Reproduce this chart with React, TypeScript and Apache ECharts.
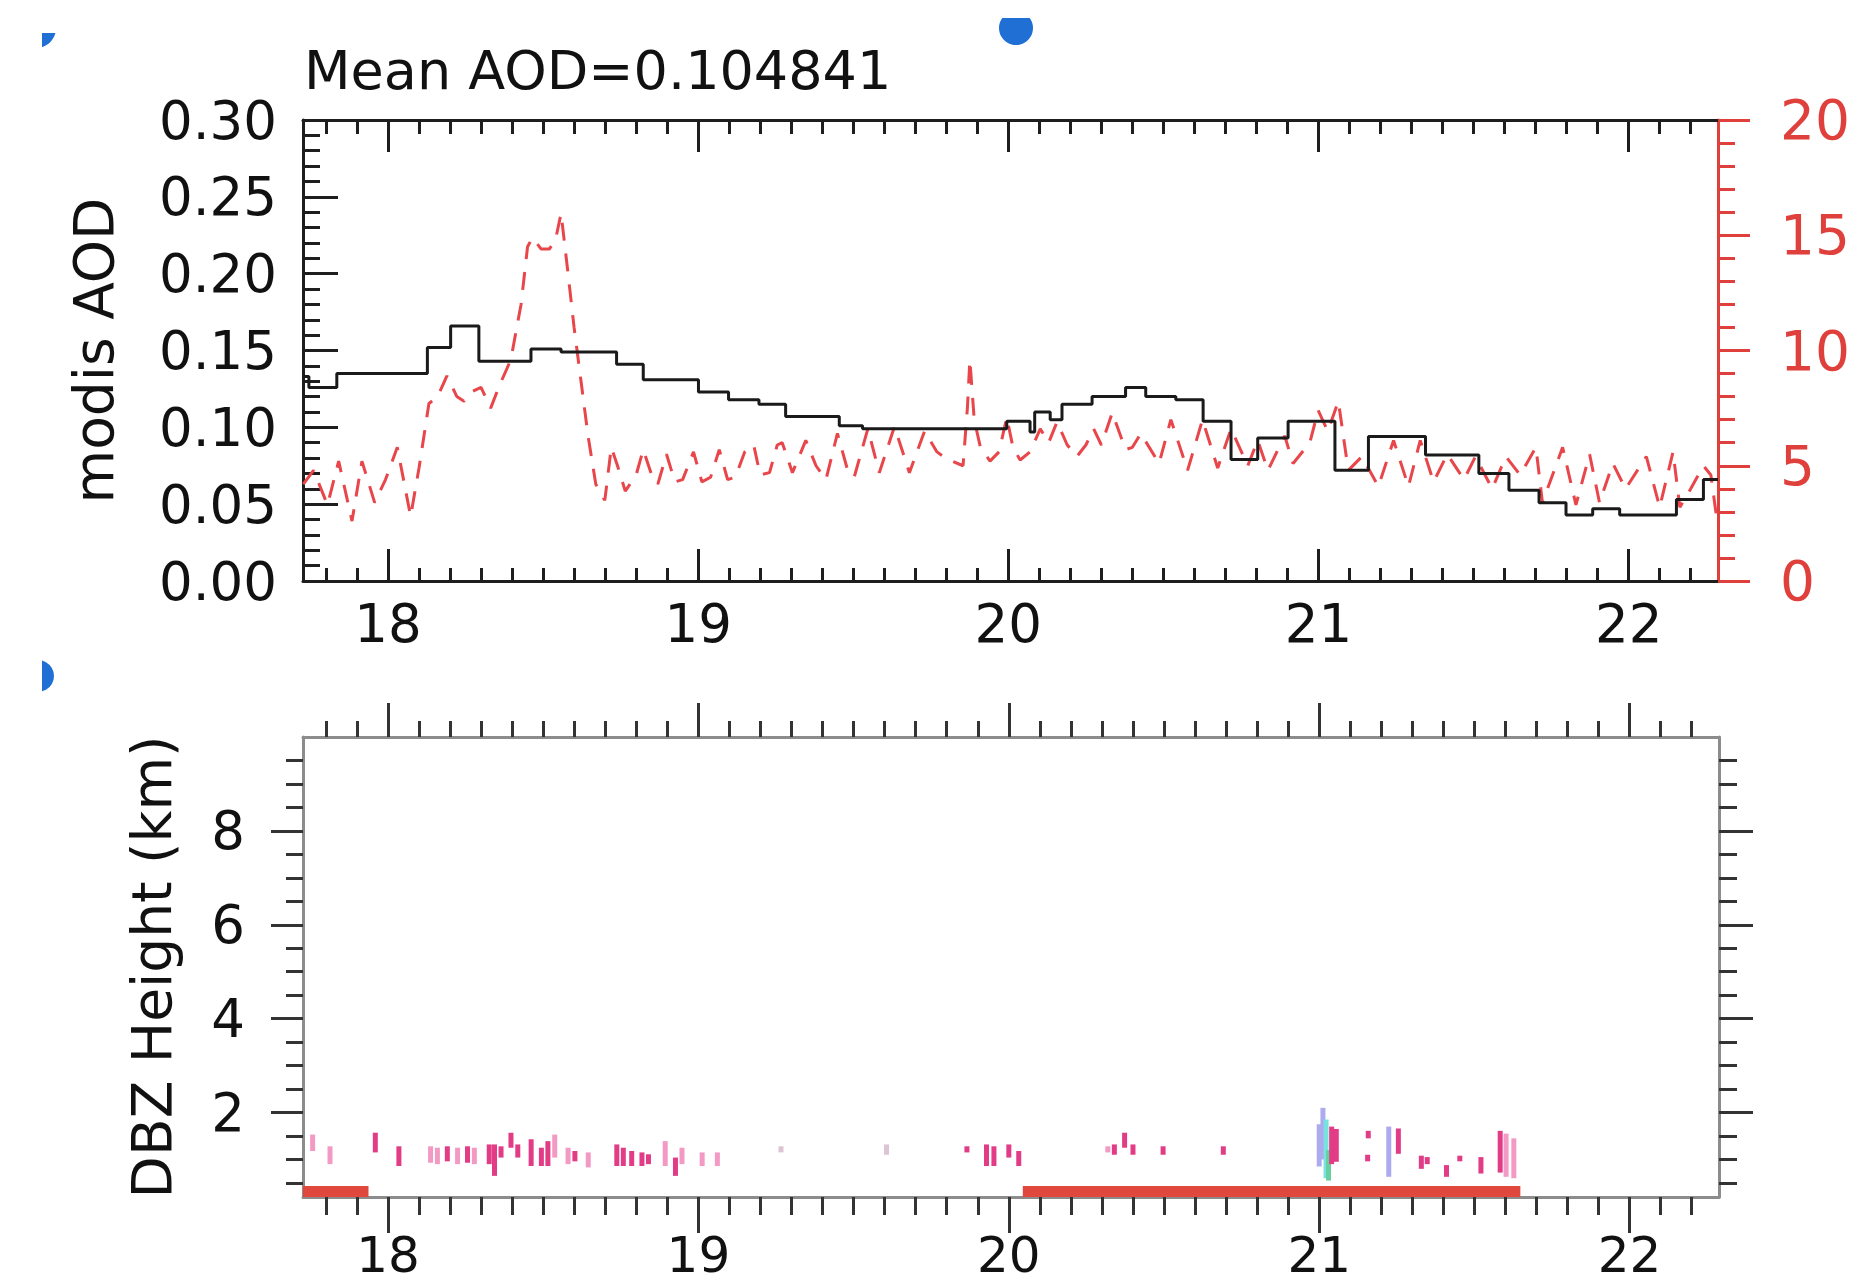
import React, { useEffect, useRef } from "react";
import * as echarts from "echarts";

// ---------- axes ----------
const X_MIN = 17.726;
const X_MAX = 22.288;
const dayLabels = [18, 19, 20, 21, 22];
const aodTicks = [0, 0.05, 0.1, 0.15, 0.2, 0.25, 0.3];
const rightTicks = [0, 5, 10, 15, 20];
const heightTicks = [2, 4, 6, 8];
const H_MIN = 0.2;
const H_MAX = 10;

// ---------- top panel: modis AOD (black step) ----------
const aodTime = [
  17.726, 17.745, 17.835, 18.127, 18.202, 18.293, 18.461, 18.558, 18.737, 18.823,
  19.001, 19.098, 19.196, 19.282, 19.455, 19.53, 19.995, 20.07, 20.085, 20.135,
  20.173, 20.27, 20.378, 20.443, 20.54, 20.628, 20.718, 20.804, 20.902, 21.053,
  21.161, 21.345, 21.517, 21.614, 21.711, 21.798, 21.884, 21.971, 22.154, 22.241, 22.288,
];
const aodValue = [
  0.133, 0.126, 0.135, 0.152, 0.166, 0.143, 0.151, 0.149, 0.141, 0.131,
  0.123, 0.118, 0.115, 0.107, 0.101, 0.099, 0.104, 0.097, 0.11, 0.105,
  0.115, 0.12, 0.126, 0.12, 0.118, 0.104, 0.079, 0.093, 0.104, 0.072,
  0.094, 0.082, 0.07, 0.059, 0.051, 0.043, 0.047, 0.043, 0.053, 0.066, 0.066,
];

// ---------- top panel: red dashed (right axis) ----------
const redTime = [
  17.727, 17.76, 17.805, 17.841, 17.884, 17.916, 17.957, 17.992, 18.03, 18.073,
  18.1, 18.132, 18.16, 18.19, 18.222, 18.245, 18.268, 18.3, 18.331, 18.36,
  18.396, 18.429, 18.45, 18.466, 18.494, 18.52, 18.54, 18.558, 18.58, 18.6,
  18.623, 18.645, 18.67, 18.699, 18.72, 18.74, 18.765, 18.8, 18.823, 18.85,
  18.87, 18.898, 18.925, 18.95, 18.985, 19.012, 19.04, 19.068, 19.095, 19.12,
  19.15, 19.179, 19.2, 19.23, 19.255, 19.271, 19.304, 19.347, 19.38, 19.412,
  19.449, 19.48, 19.503, 19.547, 19.584, 19.633, 19.681, 19.73, 19.77, 19.8,
  19.854, 19.868, 19.876, 19.89, 19.91, 19.941, 19.97, 19.995, 20.015, 20.038,
  20.07, 20.103, 20.13, 20.157, 20.19, 20.221, 20.25, 20.275, 20.3, 20.335,
  20.378, 20.4, 20.427, 20.486, 20.524, 20.578, 20.626, 20.675, 20.718, 20.772,
  20.804, 20.837, 20.891, 20.918, 20.972, 20.999, 21.03, 21.064, 21.096, 21.14,
  21.193, 21.242, 21.29, 21.328, 21.371, 21.415, 21.469, 21.506, 21.56, 21.604,
  21.65, 21.701, 21.722, 21.787, 21.83, 21.874, 21.906, 21.949, 21.99, 22.057,
  22.1, 22.143, 22.165, 22.2, 22.241, 22.265, 22.284,
];
const redValue = [
  4.2, 4.8, 3.3, 5.2, 2.6, 5.2, 3.4, 4.4, 5.8, 2.8,
  4.9, 7.7, 8.0, 8.9, 8.0, 7.8, 8.2, 8.4, 7.5, 8.5,
  9.6, 12.0, 14.5, 14.9, 14.4, 14.4, 14.8, 15.95, 13.4, 11.0,
  8.6, 6.3, 4.2, 3.5, 5.8, 5.0, 3.9, 4.6, 5.7, 4.6,
  4.2, 5.5, 4.3, 4.4, 5.6, 4.3, 4.5, 5.7, 4.4, 4.5,
  5.6, 5.9, 4.6, 4.7, 5.9, 6.0, 4.7, 6.1, 5.0, 4.4,
  6.4, 4.9, 4.5, 6.6, 4.7, 6.7, 4.7, 6.5, 5.6, 5.3,
  5.0, 7.5, 9.6, 7.0, 5.8, 5.2, 5.6, 7.1, 5.8, 5.25,
  5.6, 6.6, 6.0, 6.9, 5.9, 5.4, 5.9, 6.6, 5.9, 7.3,
  5.7, 5.8, 6.4, 5.1, 7.0, 4.8, 7.0, 4.9, 6.6, 5.0,
  6.1, 4.8, 6.3, 5.1, 6.0, 7.4, 6.5, 7.8, 4.8, 5.4,
  4.1, 6.1, 4.1, 6.1, 4.3, 5.5, 4.4, 5.4, 4.0, 5.4,
  4.6, 5.8, 3.4, 5.8, 3.3, 5.5, 3.4, 5.1, 4.0, 5.4,
  3.2, 5.6, 3.2, 4.0, 5.0, 4.6, 2.7,
];

// ---------- bottom panel: DBZ echoes ----------
const dbzTime = [
  17.757, 17.813, 17.959, 18.035, 18.137, 18.159, 18.191, 18.224, 18.256, 18.278,
  18.326, 18.343, 18.364, 18.396, 18.418, 18.461, 18.494, 18.515, 18.537, 18.58,
  18.602, 18.645, 18.737, 18.758, 18.785, 18.818, 18.839, 18.893, 18.926, 18.947,
  19.012, 19.061, 19.266, 19.606, 19.865, 19.928, 19.952, 20.0, 20.032, 20.319,
  20.34, 20.373, 20.4, 20.497, 20.691, 21.0, 21.012, 21.022, 21.03, 21.04,
  21.055, 21.156, 21.158, 21.224, 21.255, 21.329, 21.348, 21.41, 21.453, 21.521,
  21.583, 21.602, 21.627,
];
const dbzBottom = [
  1.18, 0.9, 1.15, 0.86, 0.93, 0.9, 0.96, 0.9, 0.93, 0.9,
  0.9, 0.65, 1.04, 1.25, 1.04, 0.86, 0.86, 0.86, 1.04, 0.9,
  0.96, 0.83, 0.86, 0.86, 0.86, 0.86, 0.9, 0.86, 0.65, 0.9,
  0.86, 0.86, 1.15, 1.1, 1.15, 0.86, 0.86, 1.04, 0.86, 1.15,
  1.1, 1.25, 1.1, 1.1, 1.1, 0.85, 1.0, 0.6, 0.55, 0.9,
  0.95, 0.96, 1.45, 0.63, 1.12, 0.8, 0.9, 0.63, 0.96, 0.7,
  0.72, 0.63, 0.6,
];
const dbzTop = [
  1.53, 1.28, 1.57, 1.28, 1.28, 1.25, 1.28, 1.25, 1.28, 1.25,
  1.32, 1.32, 1.28, 1.57, 1.32, 1.43, 1.25, 1.39, 1.53, 1.25,
  1.18, 1.15, 1.32, 1.25, 1.18, 1.15, 1.11, 1.39, 1.04, 1.25,
  1.15, 1.15, 1.28, 1.32, 1.28, 1.32, 1.28, 1.32, 1.18, 1.28,
  1.32, 1.57, 1.32, 1.28, 1.28, 1.75, 2.1, 1.85, 1.2, 1.7,
  1.65, 1.1, 1.61, 1.7, 1.66, 1.08, 1.05, 0.88, 1.08, 1.05,
  1.61, 1.55, 1.45,
];
const dbzLevel = [
  0, 0, 1, 1, 0, 0, 1, 0, 1, 0,
  1, 1, 1, 1, 1, 1, 1, 1, 0, 0,
  1, 0, 1, 1, 1, 1, 1, 0, 1, 0,
  0, 0, 5, 5, 1, 1, 1, 1, 1, 0,
  1, 1, 1, 1, 1, 2, 2, 3, 4, 1,
  1, 1, 1, 2, 1, 1, 1, 1, 1, 1,
  1, 0, 0,
];
const DBZ_COLORS = ["#f39ac4", "#e23c86", "#aeaaf0", "#78e2de", "#68d0a0", "#dcc4d4"];

// ---------- bottom panel: rain flag ----------
const rainStart = [17.726, 20.045];
const rainEnd = [17.937, 21.648];

// ---------- tick helpers (axis decoration only) ----------
function range(a: number, b: number, step: number) {
  const out: number[] = [];
  const n = Math.round((b - a) / step);
  for (let i = 0; i <= n; i++) out.push(Math.round((a + i * step) * 1000) / 1000);
  return out;
}
const minorDays = range(17.8, 22.2, 0.1);
const minorAod = range(0, 0.3, 0.01);
const minorRight = range(0, 20, 1);
const minorHeight = range(0.5, 9.5, 0.5);

const FONT = "DejaVu Sans";
const DARK = "#1e1e1e";
const GRAY = "#8c8c8c";
const RED = "#e0403c";
const LABEL_SIZE = 53;
const NAME_SIZE = 55;

function xAxisDef(grid: number, position: string, ticks: number[], len: number, inside: boolean, color: string, lineColor: string, showLine: boolean, labels?: number[], margin?: number, size?: number, lineHeight?: number) {
  return {
    type: "value",
    gridIndex: grid,
    position,
    min: X_MIN,
    max: X_MAX,
    axisLine: { show: showLine, onZero: false, lineStyle: { color: lineColor, width: 3 } },
    axisTick: { show: true, customValues: ticks, inside, length: len, lineStyle: { color, width: 3 } },
    axisLabel: labels
      ? {
          show: true, customValues: labels, margin, fontSize: size || LABEL_SIZE, color: "#111", fontFamily: FONT,
          ...(lineHeight ? { lineHeight } : {}),
          formatter: (v: number) => String(Math.round(v)),
        }
      : { show: false },
    splitLine: { show: false },
  };
}

function yAxisDef(grid: number, position: string, min: number, max: number, ticks: number[], len: number, inside: boolean, color: string, lineColor: string, showLine: boolean, extra: any = {}) {
  return {
    type: "value",
    gridIndex: grid,
    position,
    min,
    max,
    axisLine: { show: showLine, onZero: false, lineStyle: { color: lineColor, width: 3 } },
    axisTick: { show: true, customValues: ticks, inside, length: len, lineStyle: { color, width: 3 } },
    axisLabel: { show: false },
    splitLine: { show: false },
    ...extra,
  };
}

export default function App() {
  const ref = useRef<HTMLDivElement>(null);
  useEffect(() => {
    if (!ref.current) return;
    const chart = echarts.init(ref.current, undefined, { renderer: "svg" });

    const option: any = {
      animation: false,
      backgroundColor: "#ffffff",
      textStyle: { fontFamily: FONT },
      title: {
        text: "Mean AOD=0.104841",
        left: 304,
        top: 43,
        padding: 0,
        textStyle: { fontSize: 54, fontWeight: "normal", color: "#111", fontFamily: FONT },
      },
      grid: [
        { left: 303, top: 120, width: 1415, height: 461 },
        { left: 303, top: 737, width: 1416, height: 460 },
      ],
      xAxis: [
        xAxisDef(0, "bottom", dayLabels, 32, true, DARK, DARK, true, dayLabels, 16),
        xAxisDef(0, "bottom", minorDays, 13, true, DARK, DARK, false),
        xAxisDef(0, "top", dayLabels, 32, true, DARK, DARK, true),
        xAxisDef(0, "top", minorDays, 14, true, DARK, DARK, false),
        xAxisDef(1, "bottom", dayLabels, 36, false, "#333", GRAY, true, dayLabels, 40, 50, 36),
        xAxisDef(1, "bottom", minorDays, 18, false, "#333", GRAY, false),
        xAxisDef(1, "top", dayLabels, 34, false, "#333", GRAY, true),
        xAxisDef(1, "top", minorDays, 16, false, "#333", GRAY, false),
      ],
      yAxis: [
        yAxisDef(0, "left", 0, 0.3, aodTicks, 35, true, DARK, DARK, true, {
          axisLabel: {
            show: true, customValues: aodTicks, margin: 26, fontSize: LABEL_SIZE, color: "#111", fontFamily: FONT,
            formatter: (v: number) => v.toFixed(2),
          },
          name: "modis AOD",
          nameLocation: "middle",
          nameGap: 182,
          nameTextStyle: { fontSize: NAME_SIZE, color: "#111", fontFamily: FONT },
        }),
        yAxisDef(0, "left", 0, 0.3, minorAod, 17, true, DARK, DARK, false),
        yAxisDef(0, "right", 0, 20, rightTicks, 32, false, RED, RED, true, {
          axisLabel: {
            show: true, customValues: rightTicks, margin: 62, fontSize: LABEL_SIZE + 2, color: RED, fontFamily: FONT,
            formatter: (v: number) => String(v),
          },
        }),
        yAxisDef(0, "right", 0, 20, minorRight, 17, false, RED, RED, false),
        yAxisDef(1, "left", H_MIN, H_MAX, heightTicks, 32, false, "#333", GRAY, true, {
          axisLabel: {
            show: true, customValues: heightTicks, margin: 58, fontSize: LABEL_SIZE, color: "#111", fontFamily: FONT,
            formatter: (v: number) => String(v),
          },
          name: "DBZ Height (km)",
          nameLocation: "middle",
          nameGap: 124,
          nameTextStyle: { fontSize: NAME_SIZE, color: "#111", fontFamily: FONT },
        }),
        yAxisDef(1, "left", H_MIN, H_MAX, minorHeight, 17, false, "#333", GRAY, false),
        yAxisDef(1, "right", H_MIN, H_MAX, heightTicks, 34, false, "#333", GRAY, true),
        yAxisDef(1, "right", H_MIN, H_MAX, minorHeight, 18, false, "#333", GRAY, false),
      ],
      series: [
        {
          type: "line",
          name: "AOD",
          xAxisIndex: 0,
          yAxisIndex: 0,
          step: "end",
          showSymbol: false,
          symbol: "none",
          data: aodTime.map((t, i) => [t, aodValue[i]]),
          lineStyle: { color: "#1a1a1a", width: 3 },
          z: 3,
        },
        {
          type: "line",
          name: "red",
          xAxisIndex: 0,
          yAxisIndex: 2,
          showSymbol: false,
          symbol: "none",
          data: redTime.map((t, i) => [t, redValue[i]]),
          lineStyle: { color: "#e8464a", width: 3, type: [18, 13] },
          z: 2,
        },
        {
          type: "custom",
          name: "dbz",
          xAxisIndex: 4,
          yAxisIndex: 4,
          data: dbzTime.map((t, i) => [t, dbzBottom[i], dbzTop[i], dbzLevel[i]]),
          encode: { x: 0, y: [1, 2] },
          renderItem: (_p: any, api: any) => {
            const t = api.value(0);
            const b = api.value(1);
            const tp = api.value(2);
            const lvl = api.value(3);
            const p0 = api.coord([t, b]);
            const p1 = api.coord([t, tp]);
            const w = 5;
            return {
              type: "rect",
              shape: { x: p0[0] - w / 2, y: p1[1], width: w, height: p0[1] - p1[1] },
              style: { fill: DBZ_COLORS[lvl] },
            };
          },
        },
        {
          type: "custom",
          name: "rain",
          xAxisIndex: 4,
          yAxisIndex: 4,
          data: rainStart.map((s, i) => [s, rainEnd[i]]),
          encode: { x: [0, 1] },
          renderItem: (_p: any, api: any) => {
            const p0 = api.coord([api.value(0), H_MIN]);
            const p1 = api.coord([api.value(1), H_MIN]);
            const h = 11;
            return {
              type: "rect",
              shape: { x: p0[0], y: p0[1] - h, width: p1[0] - p0[0], height: h },
              style: { fill: "#e0483e" },
            };
          },
          z: 5,
        },
      ],
      graphic: [
        { type: "circle", shape: { cx: 36, cy: 28, r: 20 }, style: { fill: "#1f6fd4" } },
        { type: "circle", shape: { cx: 38, cy: 676, r: 16 }, style: { fill: "#1f6fd4" } },
        { type: "circle", shape: { cx: 1016, cy: 28, r: 17 }, style: { fill: "#1f6fd4" } },
        { type: "rect", shape: { x: 0, y: 0, width: 42, height: 1287 }, style: { fill: "#ffffff" } },
        { type: "rect", shape: { x: 0, y: 0, width: 60, height: 33 }, style: { fill: "#ffffff" } },
        { type: "rect", shape: { x: 990, y: 0, width: 60, height: 18 }, style: { fill: "#ffffff" } },
      ],
    };

    chart.setOption(option);
    return () => chart.dispose();
  }, []);

  return (
    <div
      ref={ref}
      style={{ position: "absolute", left: 0, top: 0, width: "1864px", height: "1287px", background: "#fff" }}
    />
  );
}
